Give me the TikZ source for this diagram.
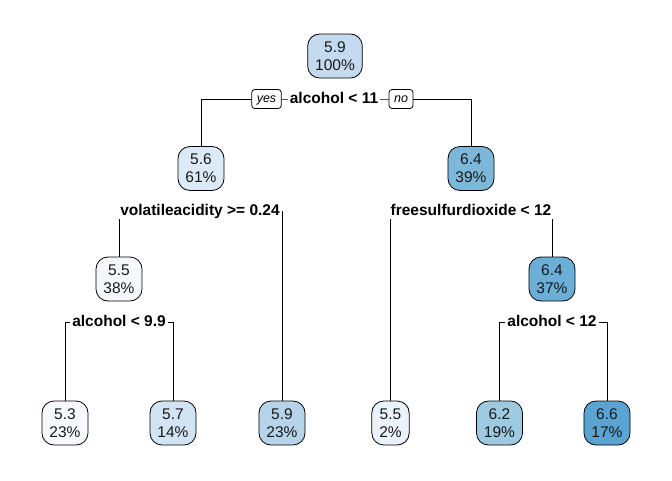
\documentclass[tikz,border=0pt]{standalone}
\usepackage{fontspec}
\setmainfont{Liberation Sans}
\definecolor{c53}{HTML}{F6FAFE}
\definecolor{c55a}{HTML}{F4F8FD}
\definecolor{c55b}{HTML}{EAF2FB}
\definecolor{c56}{HTML}{DCE9F6}
\definecolor{c57}{HTML}{D2E3F3}
\definecolor{c59r}{HTML}{C4DAEE}
\definecolor{c59l}{HTML}{B5D4E9}
\definecolor{c62}{HTML}{9DC9E1}
\definecolor{c64a}{HTML}{7DB8DA}
\definecolor{c64b}{HTML}{6BAED6}
\definecolor{c66}{HTML}{5BA3D0}
\begin{document}
\begin{tikzpicture}[x=1pt,y=-1pt,
  tnode/.style={draw=black, line width=0.8pt, rounded corners=12pt, align=center,
    font=\fontsize{15.5}{18}\selectfont, minimum height=44pt, inner xsep=7.5pt, inner ysep=2pt, text=black!90},
  slabel/.style={fill=white, font=\fontsize{15.5}{18}\selectfont\bfseries, inner xsep=2pt, inner ysep=1pt,
    text height=11pt, text depth=3pt},
  yn/.style={draw=black, line width=0.8pt, fill=white, rounded corners=3pt, font=\fontsize{12.5}{14}\selectfont\itshape,
    inner xsep=5pt, inner ysep=0pt, minimum height=19pt, text height=9pt, text depth=2.5pt},
  edgeline/.style={line width=0.8pt}]
\useasboundingbox (0,0) rectangle (672,480);
% split points
\coordinate (c1) at (334,99);
\coordinate (c2) at (200,211);
\coordinate (c3) at (471,211);
\coordinate (c4) at (119,322);
\coordinate (c5) at (552,322);
% tree nodes
\node[tnode, fill=c59r] (n1) at (335,56) {5.9\\100\%};
\node[tnode, fill=c56] (n2) at (201,168.5) {5.6\\61\%};
\node[tnode, fill=c64a] (n3) at (471,168.5) {6.4\\39\%};
\node[tnode, fill=c55a] (n4) at (119,279) {5.5\\38\%};
\node[tnode, fill=c64b] (n7) at (552,279) {6.4\\37\%};
\node[tnode, fill=c53] (l1) at (65,423) {5.3\\23\%};
\node[tnode, fill=c57] (l2) at (173,423) {5.7\\14\%};
\node[tnode, fill=c59l] (l3) at (282,423) {5.9\\23\%};
\node[tnode, fill=c55b] (l4) at (390.5,423) {5.5\\2\%};
\node[tnode, fill=c62] (l5) at (499.5,423) {6.2\\19\%};
\node[tnode, fill=c66] (l6) at (607,423) {6.6\\17\%};
% connectors
\draw[edgeline] (n2.north) |- (c1) -| (n3.north);
\draw[edgeline] (n4.north) |- (c2) -| (l3.north);
\draw[edgeline] (l4.north) |- (c3) -| (n7.north);
\draw[edgeline] (l1.north) |- (c4) -| (l2.north);
\draw[edgeline] (l5.north) |- (c5) -| (l6.north);
% split labels
\node[slabel] (s1) at (c1) {alcohol < 11};
\node[slabel] (s2) at (c2) {volatileacidity >= 0.24};
\node[slabel] (s3) at (c3) {freesulfurdioxide < 12};
\node[slabel] (s4) at (c4) {alcohol < 9.9};
\node[slabel] (s5) at (c5) {alcohol < 12};
\node[yn] (yes) at (266.5,99) {yes};
\node[yn] (no) at (401,99) {no};
\end{tikzpicture}
\end{document}
